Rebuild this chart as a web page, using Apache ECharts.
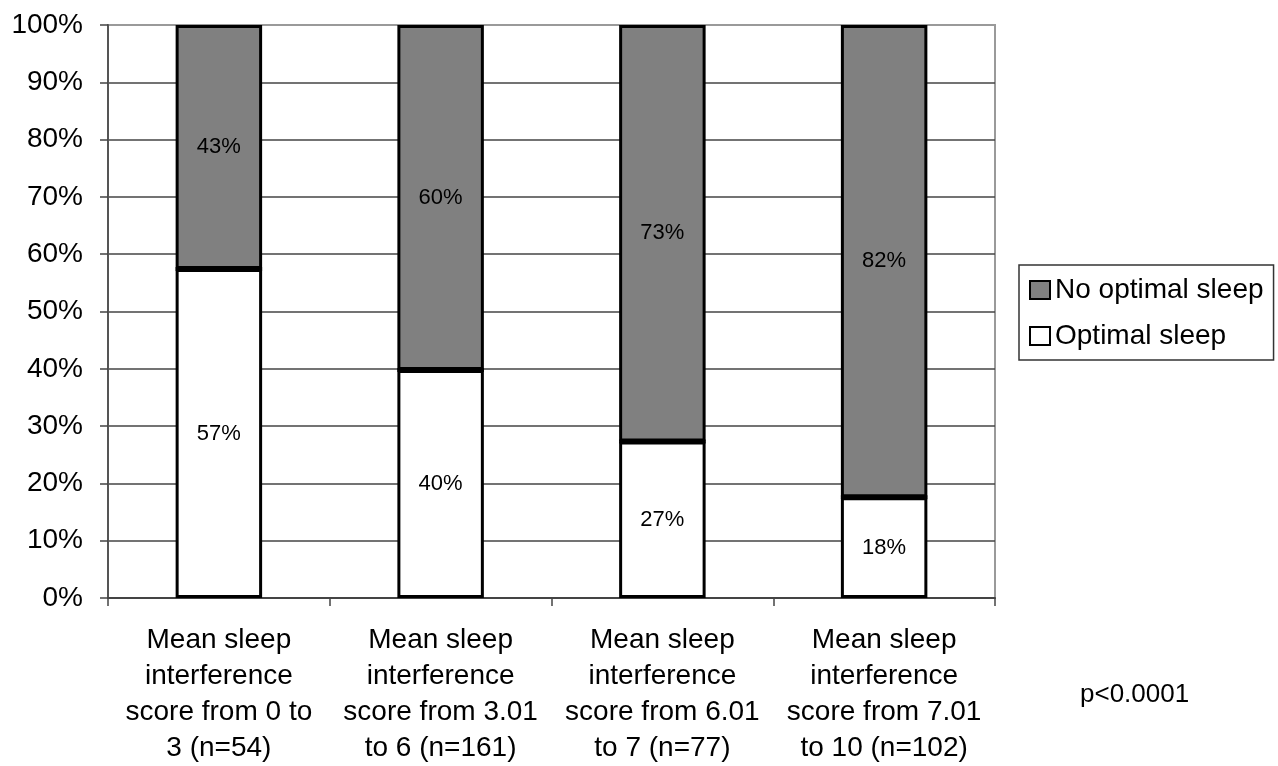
<!DOCTYPE html>
<html>
<head>
<meta charset="utf-8">
<script src="https://cdn.jsdelivr.net/npm/echarts@6/dist/echarts.min.js"></script>
<style>
html,body{margin:0;padding:0;background:#fff;}
#chart{width:1278px;height:766px;}
</style>
</head>
<body>
<div id="chart"></div>
<script>
var categories = [
  'Mean sleep\ninterference\nscore from 0 to\n3 (n=54)',
  'Mean sleep\ninterference\nscore from 3.01\nto 6 (n=161)',
  'Mean sleep\ninterference\nscore from 6.01\nto 7 (n=77)',
  'Mean sleep\ninterference\nscore from 7.01\nto 10 (n=102)'
];
var optimalSleep = [57.4, 39.8, 27.3, 17.6];
var noOptimalSleep = [42.6, 60.2, 72.7, 82.4];
var yTicks = [0, 10, 20, 30, 40, 50, 60, 70, 80, 90, 100];
var seriesNames = ['Optimal sleep', 'No optimal sleep'];
var pValueText = 'p<0.0001';

var FONT = '"Liberation Sans", Arial, sans-serif';
var BAR_W = 0.39;
var chart = echarts.init(document.getElementById('chart'), null, {renderer: 'canvas'});

var barLabel = {
  show: true,
  position: 'inside',
  color: '#000',
  fontFamily: FONT,
  fontSize: 22,
  formatter: function (p) { return Math.round(p.value) + '%'; }
};

var seamData = optimalSleep.map(function (v, i) { return [i, v]; });

chart.setOption({
  backgroundColor: '#fff',
  animation: false,
  grid: {
    left: 108, right: 283, top: 25, bottom: 168,
    outerBoundsMode: 'none', containLabel: false,
    show: true, borderColor: '#9a9a9a', borderWidth: 2, backgroundColor: '#fff'
  },
  legend: {
    orient: 'vertical',
    left: 1019, top: 265,
    padding: [11, 10, 10, 10],
    itemGap: 18,
    itemWidth: 20, itemHeight: 18,
    borderColor: '#333', borderWidth: 1.5,
    icon: 'rect',
    data: [
      {name: seriesNames[1], itemStyle: {color: '#808080', borderColor: '#000', borderWidth: 2}},
      {name: seriesNames[0], itemStyle: {color: '#fff', borderColor: '#000', borderWidth: 2}}
    ],
    textStyle: {fontFamily: FONT, fontSize: 28, color: '#000', padding: [0, 0, 0, 0]}
  },
  xAxis: {
    type: 'category',
    data: categories,
    boundaryGap: true,
    axisLine: {show: true, lineStyle: {color: '#444', width: 2}},
    axisTick: {show: true, length: 8, lineStyle: {color: '#444', width: 1.5}},
    axisLabel: {
      interval: 0, margin: 24, lineHeight: 36,
      fontFamily: FONT, fontSize: 28, color: '#000'
    }
  },
  yAxis: {
    type: 'value',
    min: yTicks[0], max: yTicks[yTicks.length - 1], interval: 10,
    axisLine: {show: true, lineStyle: {color: '#555', width: 2}},
    axisTick: {show: true, length: 8, lineStyle: {color: '#444', width: 1.5}},
    axisLabel: {margin: 25, fontFamily: FONT, fontSize: 28, color: '#000', formatter: '{value}%'},
    splitLine: {show: true, showMaxLine: false, lineStyle: {color: '#444', width: 1.5}}
  },
  series: [
    {
      name: seriesNames[0], type: 'bar', stack: 'total', barWidth: (BAR_W * 100) + '%',
      data: optimalSleep,
      itemStyle: {color: '#fff', borderColor: '#000', borderWidth: 3},
      label: barLabel
    },
    {
      name: seriesNames[1], type: 'bar', stack: 'total', barWidth: (BAR_W * 100) + '%',
      data: noOptimalSleep,
      itemStyle: {color: '#808080', borderColor: '#000', borderWidth: 3},
      label: barLabel
    },
    {
      name: 'seam', type: 'custom', z: 10, silent: true,
      data: seamData,
      renderItem: function (params, api) {
        var p = api.coord([api.value(0), api.value(1)]);
        var w = api.size([1, 0])[0] * BAR_W;
        return {
          type: 'line',
          shape: {x1: p[0] - w / 2, y1: p[1], x2: p[0] + w / 2, y2: p[1]},
          style: {stroke: '#000', lineWidth: 4}
        };
      }
    }
  ],
  graphic: [
    {
      type: 'text', left: 1080, top: 682,
      style: {text: pValueText, fontFamily: FONT, fontSize: 26, fill: '#000'}
    }
  ]
});
</script>
</body>
</html>
